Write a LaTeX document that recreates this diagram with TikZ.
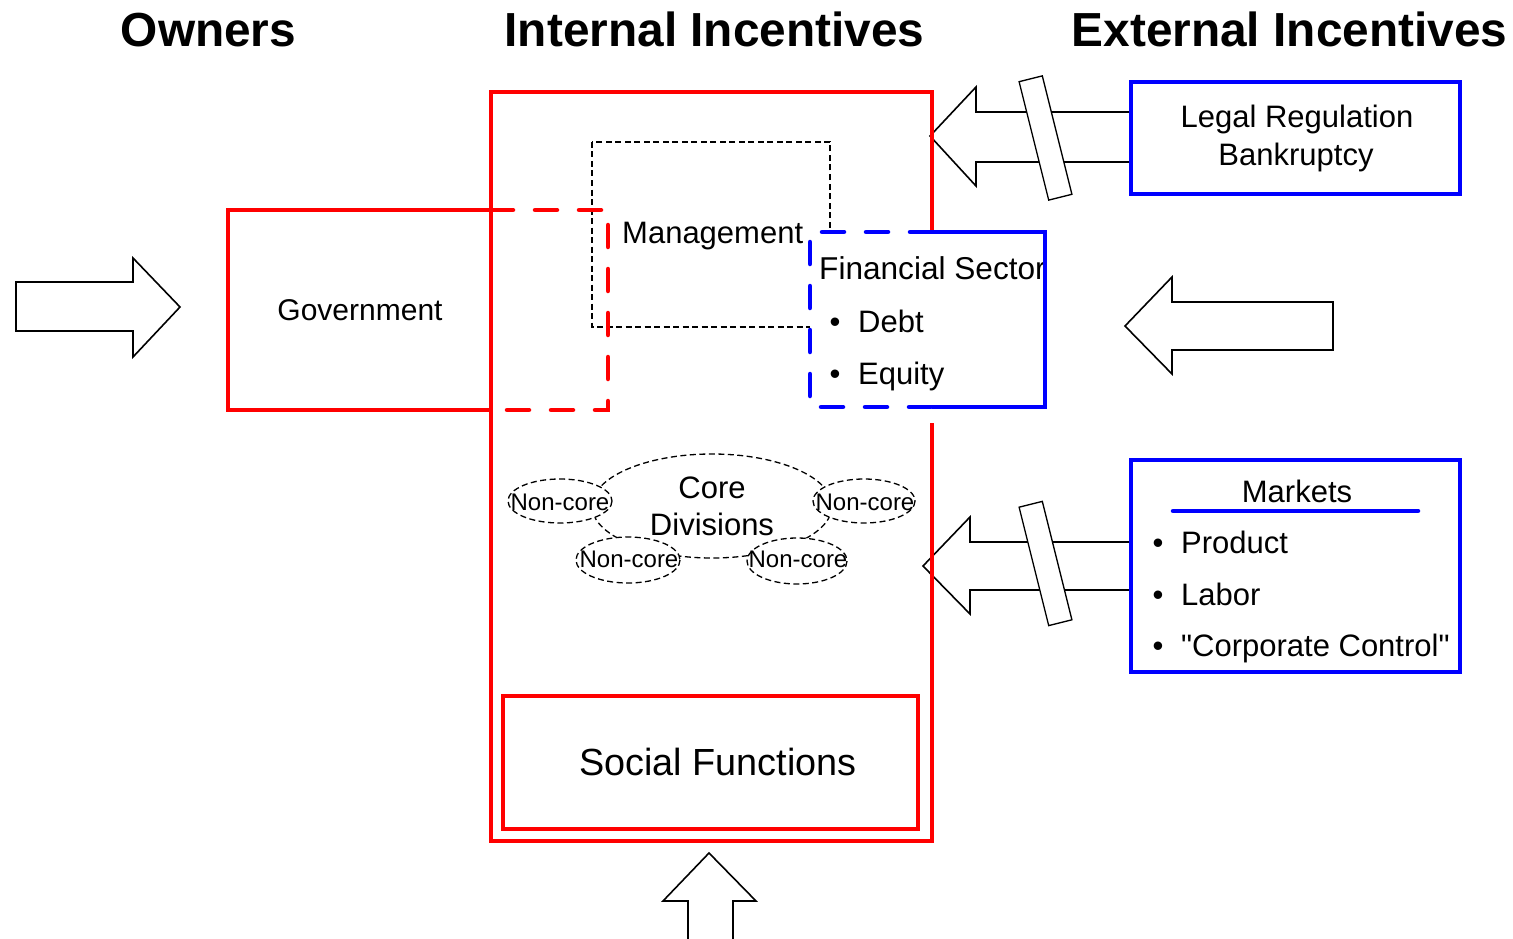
\documentclass[tikz,border=0pt]{standalone}
\usepackage{fontspec}
\setmainfont{Liberation Sans}[Ligatures=TeXOff]
\begin{document}
\begin{tikzpicture}[x=1pt,y=-1pt,
  redline/.style={draw=red, line width=4.5pt},
  blueline/.style={draw=blue, line width=4.5pt},
  reddash/.style={redline, line cap=round, dash pattern=on 22pt off 22pt},
  bluedash/.style={blueline, line cap=round, dash pattern=on 22pt off 22pt},
  thindash/.style={draw=black, line width=1.3pt, dash pattern=on 6pt off 3.5pt},
  blockarrow/.style={draw=black, fill=white, line width=1.6pt, line join=miter},
  barbox/.style={draw=black, fill=white, line width=1.3pt},
  txt/.style={font=\fontsize{31}{36}\selectfont, inner sep=0pt},
  small/.style={font=\fontsize{24}{28}\selectfont, inner sep=0pt, anchor=base},
  head/.style={font=\fontsize{47.8}{54}\selectfont\bfseries, inner sep=0pt, anchor=base},
]
\useasboundingbox (0,0) rectangle (1513,939);

% block arrows
\draw[blockarrow] (16,282) -- (133,282) -- (133,258) -- (180,307) -- (133,357) -- (133,331) -- (16,331) -- cycle;
\draw[blockarrow] (1333,302) -- (1172,302) -- (1172,277) -- (1125,326) -- (1172,374) -- (1172,350) -- (1333,350) -- cycle;
\draw[blockarrow] (1131,112) -- (976,112) -- (976,87) -- (930,136) -- (976,186) -- (976,162) -- (1131,162) -- cycle;
\draw[blockarrow] (1131,542) -- (970,542) -- (970,517) -- (923,566) -- (970,614) -- (970,590) -- (1131,590) -- cycle;
\fill[white] (688,939) -- (688,901) -- (663,901) -- (709,853) -- (756,901) -- (733,901) -- (733,939) -- cycle;
\draw[blockarrow, fill=none] (688,939) -- (688,901) -- (663,901) -- (709,853) -- (756,901) -- (733,901) -- (733,939);

% barriers across the external arrows
\draw[barbox] (1019.1,81.7) -- (1042.3,75.9) -- (1071.9,194.3) -- (1048.7,200.1) -- cycle;
\draw[barbox] (1019.1,507.2) -- (1042.3,501.4) -- (1071.9,619.8) -- (1048.7,625.6) -- cycle;

% the firm
\draw[redline] (491,92) rectangle (932,841);

% management
\draw[thindash] (592,142) rectangle (830,327);

% government
\draw[redline] (491,210) -- (228,210) -- (228,410) -- (491,410);
\draw[reddash] (491,210) -- (608,210) -- (608,410) -- (491,410);

% financial sector
\fill[white] (810,232) rectangle (1045,423);
\node[txt, font=\fontsize{31.6}{36}\selectfont, anchor=base west] (fin) at (819,279) {Financial Sector};
\node[txt, anchor=base] (fb1) at (835,332) {•};
\node[txt, anchor=base west] (debt) at (858,332) {Debt};
\node[txt, anchor=base] (fb2) at (835,384) {•};
\node[txt, anchor=base west] (equity) at (858,384) {Equity};
\draw[blueline] (932,232) -- (1045,232) -- (1045,407) -- (932,407);
\draw[bluedash] (932,232) -- (810,232) -- (810,407) -- (932,407);

% external boxes
\draw[blueline] (1131,82) rectangle (1460,194);
\draw[blueline] (1131,460) rectangle (1460,672);
\draw[blue, line width=4.5pt, line cap=round] (1173,511) -- (1418,511);

% social functions
\draw[redline] (503,696) rectangle (918,829);

% divisions
\draw[thindash] (712,506) ellipse [x radius=120, y radius=52];
\filldraw[thindash, fill=white] (560,501) ellipse [x radius=52, y radius=22];
\filldraw[thindash, fill=white] (864,501) ellipse [x radius=51, y radius=22];
\filldraw[thindash, fill=white] (628,560) ellipse [x radius=52, y radius=23];
\filldraw[thindash, fill=white] (797,561) ellipse [x radius=50, y radius=23];

% headings
\node[head] (owners) at (208.5,47) {Owners};
\node[head] (internal) at (714.5,47) {Internal Incentives};
\node[head] (external) at (1289.5,47) {External Incentives};

% labels
\node[txt, font=\fontsize{30}{36}\selectfont, anchor=base] (gov) at (360,320) {Government};
\node[txt, anchor=base west] (mgmt) at (622,243) {Management};
\node[txt, anchor=base] (legal) at (1297,128) {Legal Regulation};
\node[txt, anchor=base] (bankr) at (1296,166) {Bankruptcy};
\node[txt, anchor=base] (markets) at (1297,502) {Markets};
\node[txt, anchor=base] (mb1) at (1158,553) {•};
\node[txt, anchor=base west] (product) at (1181,553) {Product};
\node[txt, anchor=base] (mb2) at (1158,605) {•};
\node[txt, anchor=base west] (labor) at (1181,605) {Labor};
\node[txt, anchor=base] (mb3) at (1158,656) {•};
\node[txt, anchor=base west] (corp) at (1181,656) {"Corporate Control"};
\node[txt, font=\fontsize{37.8}{42}\selectfont, anchor=base] (social) at (718,775) {Social Functions};
\node[txt, anchor=base] (core) at (712,498) {Core};
\node[txt, anchor=base] (div) at (712,535) {Divisions};
\node[small] (nc1) at (560,510) {Non-core};
\node[small] (nc2) at (865,510) {Non-core};
\node[small] (nc3) at (629,567) {Non-core};
\node[small] (nc4) at (798,567) {Non-core};
\end{tikzpicture}
\end{document}
